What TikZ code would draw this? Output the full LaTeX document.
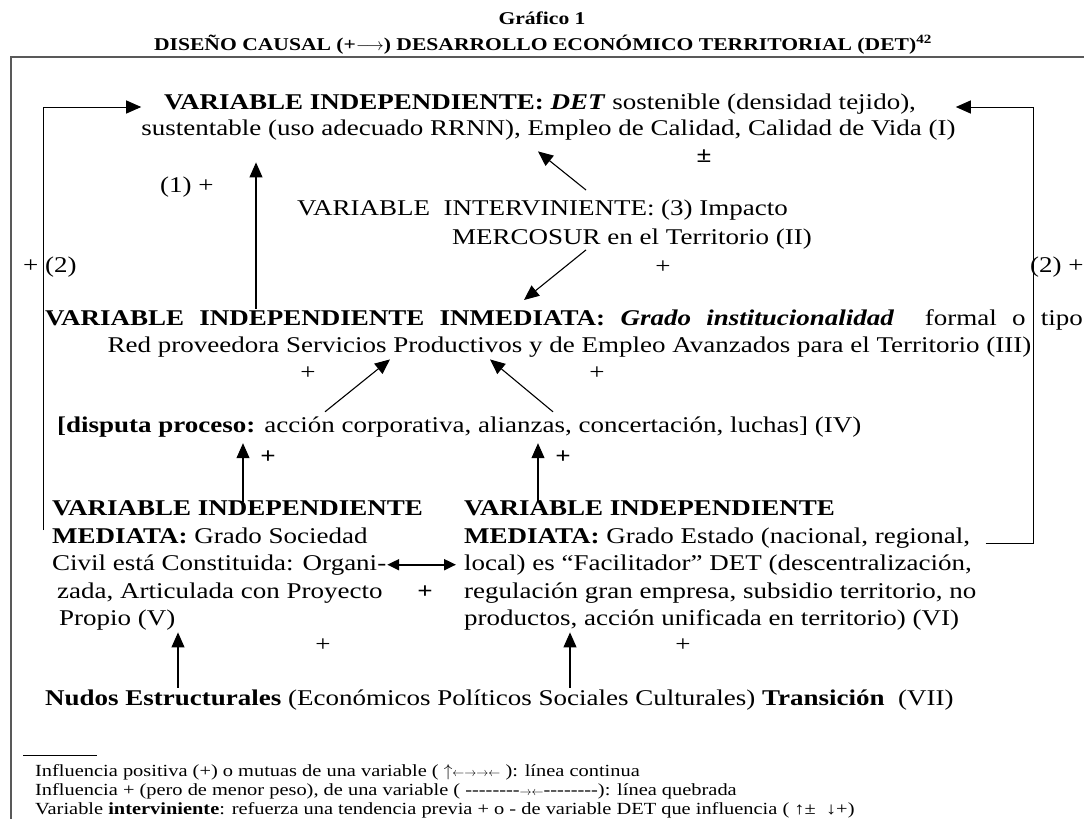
\documentclass[tikz,border=0pt]{standalone}
\usepackage{fontspec}
\setmainfont{Liberation Serif}[FakeStretch=1.2]
\usepackage{tikz}
\usetikzlibrary{arrows.meta}

\newcommand{\puntal}{\rule[-5pt]{0pt}{22pt}}
\newcommand{\flechitas}[1]{$\scriptstyle #1$}

\begin{document}
\begin{tikzpicture}[x=1pt,y=-1pt,
	texto/.style={inner sep=0pt,font=\fontsize{22.5}{27}\selectfont},
	titulo/.style={inner sep=0pt,anchor=base,font=\fontsize{18}{22}\selectfont\bfseries},
	nota/.style={inner sep=0pt,anchor=base west,font=\fontsize{17}{20}\selectfont},
	signo/.style={inner sep=0pt,anchor=base,font=\fontsize{22.5}{27}\selectfont},
	flecha/.style={line width=1.1pt,-{Triangle[length=15pt,width=13pt]}},
	lazo/.style={line width=1pt,-{Triangle[length=15pt,width=13pt]}},
	doble/.style={line width=2pt,{Triangle[length=12pt,width=11pt]}-{Triangle[length=12pt,width=11pt]}},
	marco/.style={line width=1.8pt,draw=black!65}]

	\useasboundingbox (0,0) rectangle (1084,819);

	\node[titulo] (tit) at (542,24) {Gráfico 1};
	\node[titulo] (sub) at (543,50) {DISEÑO CAUSAL (+$\longrightarrow$) DESARROLLO ECONÓMICO TERRITORIAL (DET)\textsuperscript{42}};
	\draw[marco] (10,57) -- (1084,57);
	\draw[marco] (11,57) -- (11,819);

	\node[texto,anchor=north,align=center,font=\fontsize{22.5}{26}\selectfont] (I) at (548.5,92.5)
		{\puntal\textbf{VARIABLE INDEPENDIENTE: \textit{DET}} sostenible (densidad tejido),\hspace*{17pt}\\
		sustentable (uso adecuado RRNN), Empleo de Calidad, Calidad de Vida (I)\puntal};
	\node[texto,anchor=north west,align=left,font=\fontsize{22.5}{29}\selectfont] (II) at (297,198.5)
		{\puntal VARIABLE\ \ INTERVINIENTE: (3) Impacto\\
		\hspace*{155pt}MERCOSUR en el Territorio (II)\puntal};
	\node[texto,anchor=north,align=center] (III) at (564,308.5)
		{\puntal\makebox[1038pt][s]{\textbf{VARIABLE INDEPENDIENTE INMEDIATA:} \textbf{\textit{Grado institucionalidad}}\ \ formal o tipo}\\
		\hspace*{11pt}Red proveedora Servicios Productivos y de Empleo Avanzados para el Territorio (III)\puntal};
	\node[texto,anchor=base west] (IV) at (57,432)
		{\puntal\textbf{[disputa proceso:} acción corporativa, alianzas, concertación, luchas] (IV)};
	\node[texto,anchor=north west,align=left,font=\fontsize{22.5}{27.5}\selectfont] (V) at (52,498.5)
		{\puntal\textbf{VARIABLE INDEPENDIENTE}\\
		\textbf{MEDIATA:} Grado Sociedad\\
		Civil está Constituida: Organi-\\
		\hspace*{5pt}zada, Articulada con Proyecto\\
		\hspace*{7pt}Propio (V)\puntal};
	\node[texto,anchor=north west,align=left,font=\fontsize{22.5}{27.5}\selectfont] (VI) at (464,498.5)
		{\puntal\textbf{VARIABLE INDEPENDIENTE}\\
		\textbf{MEDIATA:} Grado Estado (nacional, regional,\\
		local) es “Facilitador” DET (descentralización,\\
		regulación gran empresa, subsidio territorio, no\\
		productos, acción unificada en territorio) (VI)\puntal};
	\node[texto,anchor=base west] (VII) at (45,705)
		{\puntal\textbf{Nudos Estructurales} (Económicos Políticos Sociales Culturales) \textbf{Transición}\ \ (VII)};

	\node[texto,anchor=base west] (s1) at (160,192) {(1) +};
	\node[texto,anchor=base west] (s2) at (23,272) {+ (2)};
	\node[texto,anchor=base west] (s3) at (1030,272) {(2) +};
	\node[signo] (s4) at (704,162) {\textbf{±}};
	\node[signo] (s5) at (663,273) {+};
	\node[signo] (s6) at (308,379) {+};
	\node[signo] (s7) at (597,379) {+};
	\node[signo] (s8) at (268,463) {\textbf{+}};
	\node[signo] (s9) at (563,463) {\textbf{+}};
	\node[signo] (s10) at (425,598) {\textbf{+}};
	\node[signo] (s11) at (323,651) {+};
	\node[signo] (s12) at (683,651) {+};

	\draw[lazo] ([xshift=-9pt,yshift=-31.5pt]V.north west) |- ([yshift=-14.5pt]I.north west);
	\draw[lazo] ([xshift=9pt,yshift=-44.5pt]VI.north east) -- ++(48,0) |- ([yshift=-14.5pt]I.north east);
	\draw[flecha,shorten >=21.5pt] (III.north -| 256,0) -- (I.south -| 256,0);
	\draw[flecha] ([yshift=8.5pt]II.north -| 586,0) -- ([yshift=-10.5pt]I.south -| 538,0);
	\draw[flecha] (II.south -| 586,0) -- ([yshift=8.5pt]III.north -| 524,0);
	\draw[flecha] ([yshift=3pt]IV.north -| 325,0) -- ([yshift=-1.5pt]III.south -| 390,0);
	\draw[flecha] ([yshift=3pt]IV.north -| 553,0) -- ([yshift=-1.5pt]III.south -| 490,0);
	\draw[flecha,shorten <=-3.5pt,shorten >=6pt] (V.north -| 243,0) -- (IV.south -| 243,0);
	\draw[flecha,shorten <=-3.5pt,shorten >=6pt] (VI.north -| 538,0) -- (IV.south -| 538,0);
	\draw[doble] ([xshift=-36pt]V.east) -- ([xshift=-8pt]VI.west);
	\draw[flecha,shorten >=1.5pt] (VII.north -| 178,0) -- (V.south -| 178,0);
	\draw[flecha,shorten >=1.5pt] (VII.north -| 570,0) -- (VI.south -| 570,0);

	\draw[line width=0.8pt] (23,755) -- (97,755);
	\node[nota] (n1) at (35,776) {Influencia positiva (+) o mutuas de una variable ( $\uparrow$\flechitas{\leftarrow\rightarrow\rightarrow\leftarrow} ): línea continua};
	\node[nota] (n2) at (35,795) {Influencia + (pero de menor peso), de una variable ( -{}-{}-{}-{}-{}-{}-{}-\flechitas{\rightarrow\leftarrow}-{}-{}-{}-{}-{}-{}-{}-): línea quebrada};
	\node[nota] (n3) at (35,814) {Variable \textbf{interviniente}: refuerza una tendencia previa + o - de variable DET que influencia ( ↑±\ \ ↓+)};
\end{tikzpicture}
\end{document}
